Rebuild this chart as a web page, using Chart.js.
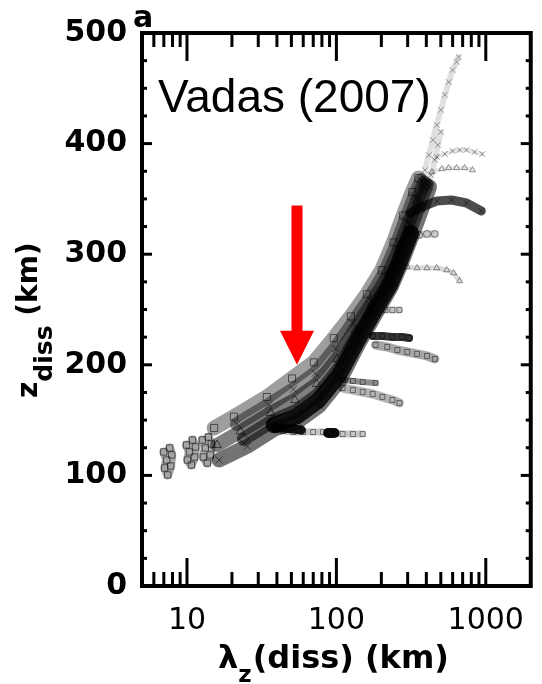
<!DOCTYPE html>
<html><head><meta charset="utf-8">
<script src="https://cdn.jsdelivr.net/npm/chart.js@4"></script>
<style>html,body{margin:0;padding:0;background:#fff}canvas{display:block}</style>
</head><body>
<canvas id="c" width="542" height="684"></canvas>
<script>
// Axis setup: vertical wavelength at dissipation (km, log) vs dissipation altitude (km)
const xTickValues = [10, 100, 1000];
const yTickValues = [0, 100, 200, 300, 400, 500];
const xRange = [5, 2000];
const yRange = [0, 500];

// Ray tracks across the main band (upper-left side to lower-right side), [lambda_z, z_diss]
const rayA = [[15.2,142.9],[20.6,153.1],[34.2,170.9],[50.5,187.7],[70.7,202.2],[96.0,224.1],[125,243.8],[160,263.8],[201,285.6],[241,310.7],[280,335.0],[322,356.2],[354,368.8]];
const rayB = [[21.6,146.4],[35.2,163.7],[51.6,177.9],[72.2,192.4],[98.4,214.7],[129,237.6],[166,259.6],[208,281.8],[249,306.3],[290,330.5],[334,352.4],[370,366.8]];
const rayC = [[15.9,127.5],[22.8,139.7],[36.3,156.4],[52.7,168.2],[73.8,182.6],[101,205.3],[133,231.5],[172,255.4],[216,278.0],[258,302.0],[300,326.0],[347,348.6],[386,364.8]];
const rayD = [[24.0,133.0],[37.4,149.2],[53.9,158.4],[75.4,172.9],[103,195.8],[137,225.3],[178,251.3],[224,274.2],[266,297.7],[310,321.4],[360,344.8],[403,362.9]];
const rayE = [[16.4,113.9],[25.3,126.3],[38.6,142.0],[55.1,148.7],[77.0,163.1],[106,186.4],[141,219.2],[185,247.1],[233,270.5],[275,293.3],[321,316.9],[373,341.0],[420,360.9]];
const rayCore = [[38.0,145.6],[54.5,153.5],[76.2,168.0],[104.5,191.1],[139,222.3],[181,249.2],[229,272.3],[270,295.5],[316,319.2]];

// Faint rays reaching the highest altitudes
const topA = [[369,359.9],[392,376.1],[416,389.7],[442,403.3],[470,416.8],[500,430.4],[532,444.0],[565,455.7],[600,466.6],[638,473.8],[658,478.3]];
const topB = [[404,358.1],[429,371.6],[456,385.2],[477,398.7],[500,410.5]];

// Short-wavelength groups at low altitude
const groupA = [[7.0,121.2],[7.32,113.9],[7.1,106.7],[7.43,100.4],[7.78,108.5],[7.9,118.5],[7.66,124.8]];
const groupB = [[9.93,127.5],[10.39,121.2],[10.08,113.9],[10.71,109.4],[11.22,116.6],[11.4,125.7],[10.88,132.0]];
const groupC = [[12.67,132.0],[13.27,124.8],[12.87,116.6],[13.68,111.2],[14.32,118.5],[14.54,128.4],[13.89,134.7]];

// Branches leaving the band towards long wavelengths
const branch140 = [[39.2,141.0],[44.3,140.2],[51.5,139.2],[60.0,139.2],[69.9,139.2],[81.4,139.2],[90.6,138.3],[99.3,138.3],[110,137.4],[129,137.4],[150,137.4]];
const branch140Dark = [[39.2,142.9],[44.3,142.9],[51.5,142.0],[58.3,141.1]];
const branch140Knot = [[88.0,138.3],[97.0,138.3]];
const branch185 = [[110,186.3],[129,185.4],[150,184.5],[183,183.6]];
const branch175 = [[110,179.0],[129,177.2],[150,175.4],[175,173.6],[203,170.9],[237,168.2],[264,165.5]];
const branch226 = [[175,226.1],[203,226.1],[237,225.1],[276,225.1],[307,224.2]];
const branch215 = [[183,217.9],[219,216.1],[256,213.4],[298,211.6],[347,209.8],[404,208.0],[456,205.3]];
const branch250 = [[213,249.6],[237,249.6],[264,249.6]];
const branch287 = [[256,287.5],[298,288.4],[347,287.5],[404,287.5],[470,287.5],[548,285.7],[609,283.0],[668,275.8]];
const branch318 = [[321,316.5],[358,317.4],[404,318.3],[456,318.3]];
const branch345 = [[312,337.3],[374,342.7],[470,348.1],[591,349.0],[743,346.3],[934,339.1]];
const branch377 = [[436,374.3],[508,377.1],[565,378.0],[638,378.0],[721,378.0],[815,376.1]];
const branch392 = [[470,387.9],[532,390.6],[600,393.3],[668,394.2],[743,394.2],[840,392.4],[948,390.6]];

// Annotation arrow (data coordinates)
const arrowLam = 54.5, arrowFromZ = 344, arrowToZ = 200;

const grey = a => `rgba(0,0,0,${a})`;
function track(arr, marker, s) {
  return {
    data: arr.map(([x, y]) => ({x, y})),
    showLine: s.line > 0,
    borderColor: grey(s.lineA || 0),
    borderWidth: s.line,
    borderCapStyle: 'round',
    borderJoinStyle: 'round',
    pointStyle: marker,
    pointRadius: s.r,
    pointBorderColor: grey(s.mk || 0),
    pointBackgroundColor: 'rgba(0,0,0,0)',
    pointBorderWidth: 1,
    fill: false,
    tension: 0
  };
}
const faint = {line: 6, lineA: 0.12, r: 4, mk: 0.35};
const group = {line: 9, lineA: 0.35, r: 4.5, mk: 0.55};
const branch = {line: 7, lineA: 0.22, r: 3.5, mk: 0.45};
const darkBar = {line: 9, lineA: 0.9, r: 0};

const datasets = [
  track(branch140Knot, false, {line: 10, lineA: 0.95, r: 0}),
  track(branch140Dark, false, darkBar),
  track(branch226, 'rect', {line: 8, lineA: 0.8, r: 3.5, mk: 0.5}),
  track(branch345, 'crossRot', {line: 9, lineA: 0.7, r: 4, mk: 0.5}),
  track(rayCore, false, {line: 16, lineA: 0.85, r: 0}),
  track(rayA, 'rect', {line: 15, lineA: 0.38, r: 5, mk: 0.55}),
  track(rayB, 'crossRot', {line: 14, lineA: 0.42, r: 5, mk: 0.55}),
  track(rayC, 'triangle', {line: 14, lineA: 0.5, r: 5, mk: 0.55}),
  track(rayD, 'rectRot', {line: 14, lineA: 0.55, r: 5, mk: 0.55}),
  track(rayE, 'crossRot', {line: 15, lineA: 0.55, r: 5, mk: 0.55}),
  track(topA, 'crossRot', faint),
  track(topB, 'crossRot', faint),
  track(groupA, 'rect', group),
  track(groupB, 'rect', group),
  track(groupC, 'rect', group),
  track(branch140, 'rect', branch),
  track(branch185, 'rect', {line: 6, lineA: 0.45, r: 3.5, mk: 0.45}),
  track(branch175, 'rect', {line: 9, lineA: 0.3, r: 3.5, mk: 0.45}),
  track(branch215, 'rect', {line: 9, lineA: 0.35, r: 3.5, mk: 0.45}),
  track(branch250, 'rect', branch),
  track(branch287, 'triangle', {line: 5, lineA: 0.15, r: 3.5, mk: 0.4}),
  track(branch318, 'circle', branch),
  track(branch377, 'triangle', {line: 4, lineA: 0.1, r: 3.5, mk: 0.4}),
  track(branch392, 'crossRot', {line: 4, lineA: 0.1, r: 4, mk: 0.4})
];

// Frame with inward ticks on all four sides
const framePlugin = {
  id: 'frame',
  afterDatasetsDraw(chart) {
    const {ctx, chartArea: a, scales: {x, y}} = chart;
    ctx.save();
    ctx.strokeStyle = '#000';
    ctx.lineWidth = 3;
    const xMinor = [];
    for (const d of [1, 10, 100, 1000]) for (let m = 2; m <= 9; m++) {
      const v = m * d;
      if (v > xRange[0] && v < xRange[1] && !xTickValues.includes(v)) xMinor.push(v);
    }
    const seg = (x1, y1, x2, y2) => { ctx.beginPath(); ctx.moveTo(x1, y1); ctx.lineTo(x2, y2); ctx.stroke(); };
    const xTick = (v, len) => { const p = x.getPixelForValue(v); seg(p, a.bottom, p, a.bottom - len); seg(p, a.top, p, a.top + len); };
    xMinor.forEach(v => xTick(v, 14));
    xTickValues.forEach(v => xTick(v, 28));
    const yTick = (v, len) => { const p = y.getPixelForValue(v); seg(a.left, p, a.left + len, p); seg(a.right, p, a.right - len, p); };
    for (let v = yRange[0] + 25; v < yRange[1]; v += 25) yTick(v, v % 100 === 0 ? 10 : 5);
    ctx.lineWidth = 4;
    ctx.strokeRect(a.left, a.top, a.right - a.left, a.bottom - a.top);
    ctx.restore();
  }
};

// Axis titles, panel letter, citation text and the red arrow
const textPlugin = {
  id: 'texts',
  afterDraw(chart) {
    const {ctx, scales: {x, y}} = chart;
    ctx.save();
    ctx.fillStyle = '#000';
    ctx.textBaseline = 'alphabetic';
    ctx.textAlign = 'left';

    ctx.font = 'bold 30px "DejaVu Sans"';
    ctx.fillText('a', 133, 27);

    // x title: λ_z(diss) (km)
    let cx = 218;
    ctx.font = 'bold 32px "DejaVu Sans"';
    ctx.fillText('λ', cx, 668); cx += ctx.measureText('λ').width;
    ctx.font = 'bold 23px "DejaVu Sans"';
    ctx.fillText('z', cx, 682); cx += ctx.measureText('z').width + 1;
    ctx.font = 'bold 32px "DejaVu Sans"';
    ctx.fillText('(diss) (km)', cx, 668);

    // y title: z_diss (km), rotated
    ctx.save();
    ctx.translate(37, 398);
    ctx.rotate(-Math.PI / 2);
    let cy = 0;
    ctx.font = 'bold 28px "DejaVu Sans"';
    ctx.fillText('z', cy, 0); cy += ctx.measureText('z').width;
    ctx.font = 'bold 25px "DejaVu Sans"';
    ctx.fillText('diss', cy, 15); cy += ctx.measureText('diss').width;
    ctx.font = 'bold 28px "DejaVu Sans"';
    ctx.fillText(' (km)', cy, 0);
    ctx.restore();

    ctx.font = '46px "Liberation Sans"';
    ctx.fillText('Vadas (2007)', 158, 112);

    // arrow
    const ax = x.getPixelForValue(arrowLam);
    const y0 = y.getPixelForValue(arrowFromZ);
    const y1 = y.getPixelForValue(arrowToZ);
    const head = 34, half = 17, shaft = 5.5;
    ctx.fillStyle = '#ff0000';
    ctx.fillRect(ax - shaft, y0, shaft * 2, (y1 - head) - y0 + 1);
    ctx.beginPath();
    ctx.moveTo(ax - half, y1 - head);
    ctx.lineTo(ax + half, y1 - head);
    ctx.lineTo(ax, y1);
    ctx.closePath();
    ctx.fill();
    ctx.restore();
  }
};

new Chart(document.getElementById('c'), {
  type: 'scatter',
  data: {datasets},
  options: {
    responsive: false,
    animation: false,
    devicePixelRatio: 1,
    events: [],
    layout: {padding: {left: 0, right: 9, top: 33, bottom: 0}},
    plugins: {legend: {display: false}, tooltip: {enabled: false}},
    scales: {
      x: {
        type: 'logarithmic', min: xRange[0], max: xRange[1], position: 'bottom',
        afterBuildTicks: s => { s.ticks = xTickValues.map(v => ({value: v})); },
        afterFit: s => { s.height = 98; },
        grid: {display: false, drawTicks: false}, border: {display: false},
        ticks: {padding: 17, color: '#000', autoSkip: false, maxRotation: 0,
          font: {family: 'DejaVu Sans', size: 30}, callback: v => String(v)}
      },
      y: {
        type: 'linear', min: yRange[0], max: yRange[1], position: 'left',
        afterBuildTicks: s => { s.ticks = yTickValues.map(v => ({value: v})); },
        afterFit: s => { s.width = 142; },
        grid: {display: false, drawTicks: false}, border: {display: false},
        ticks: {padding: 15, color: '#000',
          font: {family: 'DejaVu Sans', size: 30, weight: 'bold'}, callback: v => String(v)}
      }
    }
  },
  plugins: [framePlugin, textPlugin]
});
</script>
</body></html>
